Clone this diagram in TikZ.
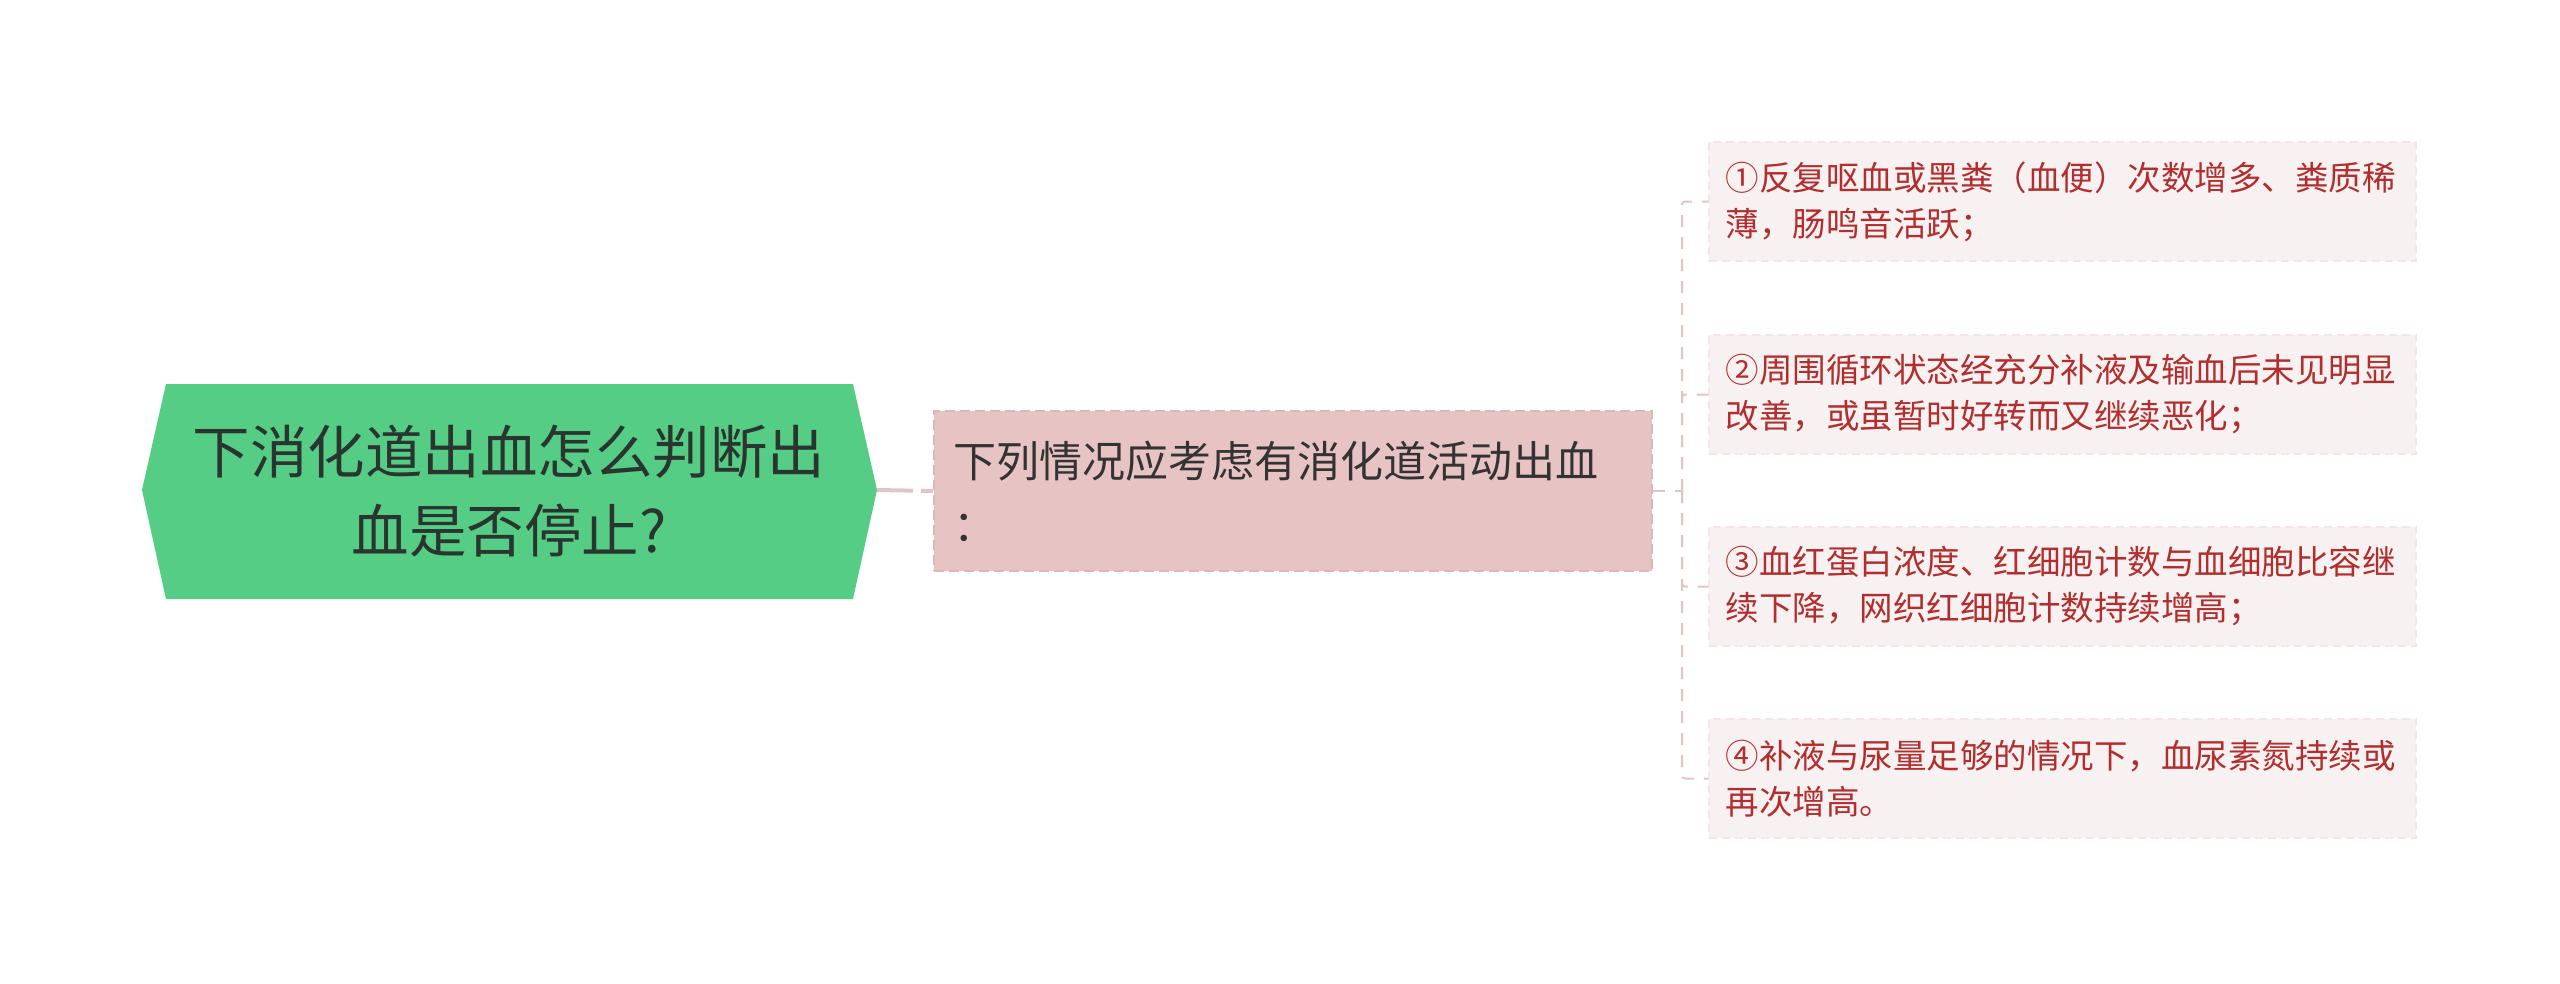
\documentclass[tikz,border=0pt]{standalone}
\usepackage{fontspec}
\setmainfont{Noto Sans CJK SC}
\usetikzlibrary{calc}
\definecolor{rootfill}{HTML}{55CD85}
\definecolor{roottext}{HTML}{2A3530}
\definecolor{midfill}{HTML}{E8C3C3}
\definecolor{midborder}{HTML}{DDB6B6}
\definecolor{midtext}{HTML}{333333}
\definecolor{leaffill}{HTML}{F8F1F1}
\definecolor{leafborder}{HTML}{F4E6E6}
\definecolor{leaftext}{HTML}{B22E2E}
\definecolor{linkcol}{HTML}{E2C4C4}
\tikzset{
  midbox/.style={fill=midfill, draw=midborder, line width=2pt, dash pattern=on 10pt off 5pt,
    minimum width=718pt, minimum height=160pt, text width=680pt, align=left,
    inner xsep=19pt, text=midtext, font=\fontsize{43}{64}\selectfont},
  leafbox/.style={fill=leaffill, draw=leafborder, line width=1.5pt, dash pattern=on 8pt off 5pt,
    minimum width=707pt, minimum height=119pt, text width=674pt, align=left,
    inner xsep=16.5pt, text=leaftext, font=\fontsize{33.5}{46}\selectfont},
  rootlink/.style={draw=linkcol, line width=4pt, dash pattern=on 36pt off 8pt},
  branch/.style={draw=linkcol, line width=2pt, dash pattern=on 12pt off 10pt, rounded corners=3pt},
}
\begin{document}
\begin{tikzpicture}[x=1pt,y=-1pt]
\useasboundingbox (0,0) rectangle (2560,983);
\fill[white] (0,0) rectangle (2560,983);
% root hexagon
\coordinate (rootL) at (142,490);
\coordinate (rootR) at (877,490);
\fill[rootfill] (rootL) -- (166,384) -- (853,384) -- (rootR) -- (853,599) -- (166,599) -- cycle;
\node[text=roottext, align=center, font=\fontsize{57.5}{79}\selectfont] (root) at (509,491)
  {下消化道出血怎么判断出\\血是否停止?};
% middle node
\node[midbox] (mid) at (1293,491) {下列情况应考虑有消化道活动出血\\：};
% leaves
\node[leafbox] (l1) at (2062.5,201.5) {①反复呕血或黑粪（血便）次数增多、粪质稀\\薄，肠鸣音活跃；};
\node[leafbox] (l2) at (2062.5,394.5) {②周围循环状态经充分补液及输血后未见明显\\改善，或虽暂时好转而又继续恶化；};
\node[leafbox] (l3) at (2062.5,586.5) {③血红蛋白浓度、红细胞计数与血细胞比容继\\续下降，网织红细胞计数持续增高；};
\node[leafbox] (l4) at (2062.5,778.5) {④补液与尿量足够的情况下，血尿素氮持续或\\再次增高。};
% connectors
\draw[rootlink] (rootR) -- (mid.west);
\coordinate (trunk) at (1682,491);
\draw[branch] (mid.east) -- (trunk);
\foreach \n in {l1,l2,l3,l4}{
  \draw[branch] (trunk) |- (\n.west);
}
\end{tikzpicture}
\end{document}
